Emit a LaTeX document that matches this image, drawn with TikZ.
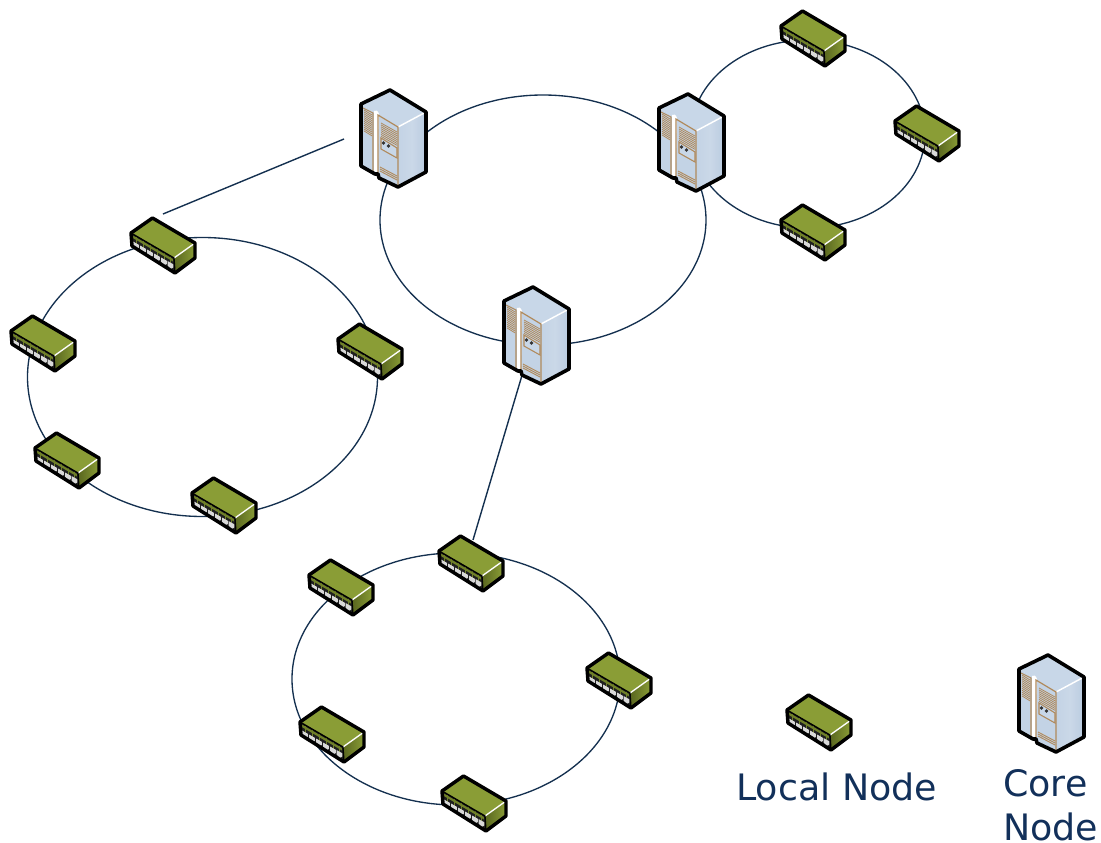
\documentclass[tikz,border=0pt]{standalone}
\usepackage{fontspec}
\setmainfont{DejaVu Sans}
\definecolor{navy}{HTML}{12305A}
\definecolor{ringc}{HTML}{14304F}
\definecolor{oliveT}{HTML}{8A9D36}
\definecolor{oliveD}{HTML}{6F8028}
\definecolor{oliveF}{HTML}{59661F}
\definecolor{srvT}{HTML}{C8D7E8}
\definecolor{srvL}{HTML}{C3D3E5}
\definecolor{srvR}{HTML}{B9CBE0}
\definecolor{tan}{HTML}{B08A5C}
\tikzset{
  ring/.style={draw=ringc,line width=1pt},
  link/.style={draw=ringc,line width=1.05pt},
  outl/.style={draw=black,line width=2.6pt,line join=round},
  label/.style={text=navy,font=\fontsize{27.3}{33}\selectfont,inner sep=0pt,anchor=base west},
  switchicon/.pic={
    \fill[oliveT] (-10.5,-28)--(32,-3)--(11,12)--(-32,-13)--cycle;
    \fill[left color=oliveF,right color=oliveT] (11,12)--(32,-3)--(32,12)--(12,27)--cycle;
    \fill[black!88] (-32,-13)--(11,12)--(12,27)--(-31,0)--cycle;
    \fill[oliveD] (-31,-11)--(10,13)--(10,15.5)--(-31,-8.5)--cycle;
    \foreach \xx/\yy in {-27/-1,-20/3,-13/7,-6/11,1/15,7.5/18.5}{
      \draw[oliveD,line width=0.7pt] (\xx,\yy-9)--(\xx,\yy);
      \fill[white!85!black] (\xx-2.8,\yy-3.4)--(\xx+2.8,\yy-0.2)--(\xx+2.8,\yy+3)--(\xx,\yy+4.6)--(\xx-2.8,\yy+1)--cycle;
    }
    \draw[white,line width=1pt] (11,12)--(32,-3);
    \draw[outl] (-10.5,-28)--(32,-3)--(32,12)--(12,27)--(-31,0)--(-32,-13)--cycle;
    \draw[black,line width=1pt] (-32,-13)--(11,12)--(12,27);
  },
  servericon/.pic={
    \fill[srvT] (-4,-48)--(32,-26)--(4,-11)--(-33,-34)--cycle;
    \fill[srvL] (-33,-34)--(4,-11)--(4,49)--(-15,40)--(-16,36)--(-19,36)--(-33,28)--cycle;
    \fill[left color=srvL,right color=srvR,middle color=white!25!srvR] (4,-11)--(32,-26)--(32,34)--(4,49)--cycle;
    \draw[white,line width=1.1pt] (4,-11)--(32,-26);
    \fill[white] (-20,-27) .. controls (-18,-29) and (-16,-27) .. (-15,-24)--(-16,35)--(-20,33)--cycle;
    \draw[tan,line width=0.8pt] (-31,-30)--(-21,-25)--(-21,33);
    \foreach \k in {0,1.9,...,22}{
      \draw[tan,line width=0.6pt] (-30,-28+\k)--(-22,-23+\k);
    }
    \draw[tan,line width=0.9pt] (-16,36)--(-16,-23)--(4,-11)--(4,48);
    \foreach \k in {0,1.9,...,15}{
      \draw[tan,line width=0.6pt] (-13,-15+\k)--(3,-6+\k);
    }
    \draw[tan,line width=0.8pt,fill=srvT] (-13,0)--(3,10)--(3,20)--(-13,11)--cycle;
    \fill[black!80] (-10.5,5) circle (1.8);
    \fill[black!80] (-5.5,8) circle (1.8);
    \foreach \k in {0,2,4}{
      \draw[tan,line width=0.7pt] (-14,29+\k)--(3,38+\k);
    }
    \draw[outl,line width=2.7pt] (-4,-48)--(32,-26)--(32,34)--(4,49)--(-15,40)--(-16,36)--(-19,36)--(-33,28)--(-33,-34)--cycle;
  }
}
\begin{document}
\begin{tikzpicture}[x=0.75pt,y=-0.75pt]
\useasboundingbox (0,0) rectangle (1101,843);
\coordinate (s1) at (163,246);
\coordinate (s2) at (43,344);
\coordinate (s3) at (370,352);
\coordinate (s4) at (67,461);
\coordinate (s5) at (224,506);
\coordinate (s6) at (341,588);
\coordinate (s7) at (471,564);
\coordinate (s8) at (619,681);
\coordinate (s9) at (332,735);
\coordinate (s10) at (474,804);
\coordinate (s11) at (813,39);
\coordinate (s12) at (927,134);
\coordinate (s13) at (813,233);
\coordinate (s14) at (819,723);
\coordinate (c1) at (394,138);
\coordinate (c2) at (692,142);
\coordinate (c3) at (537,335);
\coordinate (c4) at (1052,703);
\coordinate (l1a) at (163,214);
\coordinate (l1b) at (344,139);
\coordinate (l2a) at (523,372);
\coordinate (l2b) at (473,540);
\draw[ring] (202.5,377) ellipse [x radius=175,y radius=139.5];
\draw[ring] (543,220) ellipse [x radius=163,y radius=125];
\draw[ring] (808,134) ellipse [x radius=117,y radius=94];
\draw[ring] (456,679) ellipse [x radius=164,y radius=126];
\draw[link] (l1a)--(l1b);
\draw[link] (l2a)--(l2b);
\foreach \n in {s1,s2,s3,s4,s5,s6,s7,s8,s9,s10,s11,s12,s13,s14}{
  \pic at (\n) {switchicon};
}
\foreach \n in {c1,c2,c3,c4}{
  \pic at (\n) {servericon};
}
\node[label] (t1) at (736,800) {Local Node};
\node[label] (t2) at (1003,796) {Core};
\node[label] (t3) at (1003,840) {Node};
\end{tikzpicture}
\end{document}
